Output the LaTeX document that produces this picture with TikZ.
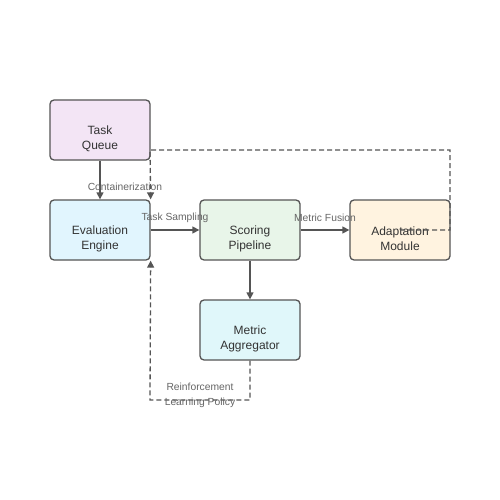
\documentclass[tikz,border=0pt]{standalone}
\usepackage{fontspec}
\setmainfont{Liberation Sans}
\usetikzlibrary{arrows.meta}
\definecolor{edge}{HTML}{555555}
\definecolor{lbl}{HTML}{666666}
\definecolor{txt}{HTML}{333333}
\definecolor{cq}{HTML}{F3E5F5}
\definecolor{ce}{HTML}{E1F5FE}
\definecolor{cs}{HTML}{E8F5E9}
\definecolor{ca}{HTML}{FFF3E0}
\definecolor{cm}{HTML}{E0F7FA}
\begin{document}
\begin{tikzpicture}[x=1pt,y=-1pt,
  box/.style={draw=edge,line width=1.3pt,rounded corners=4pt,minimum width=100pt,minimum height=60pt,inner sep=0pt},
  boxtext/.style={align=center,font=\fontsize{12}{15}\selectfont,text=txt,yshift=-9pt,inner sep=0pt},
  conn/.style={draw=edge,line width=1.3pt,-{Triangle[length=7pt,width=7pt]}},
  dconn/.style={conn,dash pattern=on 5pt off 3pt},
  elabel/.style={font=\fontsize{10.3}{15}\selectfont,text=lbl,align=center,inner sep=0pt}]
\useasboundingbox[fill=white] (0,0) rectangle (500,500);
\node[box,fill=cq,label={[boxtext]center:{Task\\Queue}}] (q) at (100,130) {};
\node[box,fill=ce,label={[boxtext]center:{Evaluation\\Engine}}] (e) at (100,230) {};
\node[box,fill=cs,label={[boxtext]center:{Scoring\\Pipeline}}] (s) at (250,230) {};
\node[box,fill=ca,label={[boxtext]center:{Adaptation\\Module}}] (a) at (400,230) {};
\node[box,fill=cm,label={[boxtext]center:{Metric\\Aggregator}}] (m) at (250,330) {};
\draw[conn] (q) -- (e);
\draw[conn] (e) -- (s);
\draw[conn] (s) -- (a);
\draw[conn] (s) -- (m);
\draw[dconn] (a.center) -- (450,230) -- (450,150) -- (150,150) -- (e.north east);
\draw[dconn] (m.south) -- (250,400) -- (150,400) -- (e.south east);
\node[elabel] (l1) at (125,187) {Containerization};
\node[elabel] (l2) at (175,217.5) {Task Sampling};
\node[elabel] (l3) at (325,217.5) {Metric Fusion};
\node[elabel] (l4) at (200,395) {Reinforcement\\Learning Policy};
\end{tikzpicture}
\end{document}
